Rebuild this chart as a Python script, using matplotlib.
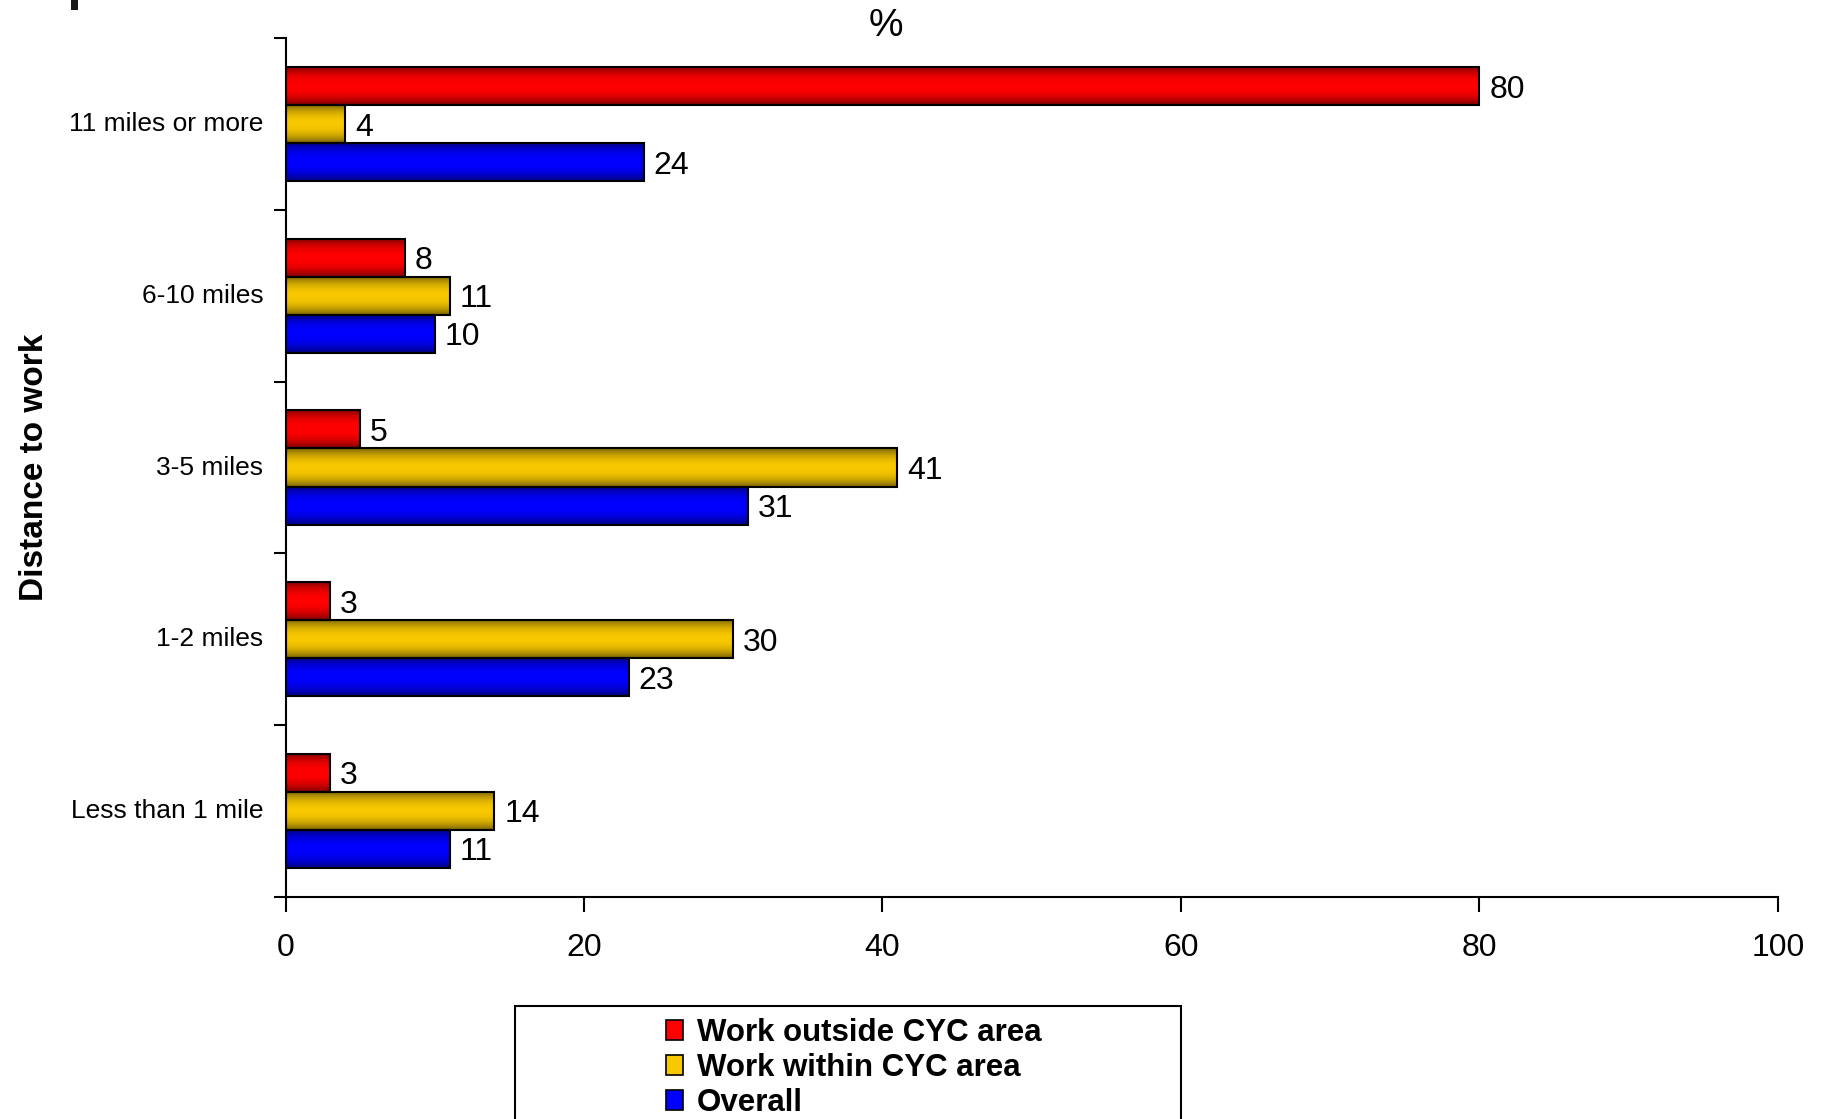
"""
Distance to work, split by where people work (bar chart, horizontal).
"""

import numpy as np
import matplotlib
matplotlib.use("Agg")
import matplotlib.pyplot as plt
import matplotlib.colors as mcolors
import matplotlib.transforms as mtransforms
from matplotlib.patches import Rectangle, Patch

plt.rcParams["font.family"] = ["Liberation Sans", "DejaVu Sans"]

categories = ["Less than 1 mile", "1-2 miles", "3-5 miles", "6-10 miles", "11 miles or more"]
outside = [3, 3, 5, 8, 80]
within = [14, 30, 41, 11, 4]
overall = [11, 23, 31, 10, 24]

series_names = ["Work outside CYC area", "Work within CYC area", "Overall"]
series_colors = ["#ff0000", "#f8c800", "#0000ff"]

xticks = [0, 20, 40, 60, 80, 100]


def shade(base, n=96):
    # dark at the top/bottom edges, full colour through the middle
    t = np.linspace(0, 1, n)
    f = 1 - 0.52 * np.abs(2 * t - 1) ** 2.2
    rgb = np.array(mcolors.to_rgb(base))
    return (f[:, None] * rgb[None, :])[:, None, :]


def gradient_bars(ax, bars, color):
    img = shade(color)
    for p in bars.patches:
        x0, y0 = p.get_x(), p.get_y()
        x1, y1 = x0 + p.get_width(), y0 + p.get_height()
        im = ax.imshow(img, extent=(x0, x1, y0, y1), origin="lower",
                       aspect="auto", interpolation="bilinear", zorder=2)
        im.set_clip_path(p)
        p.set_facecolor("none")
        p.set_zorder(3)


fig = plt.figure(figsize=(18.28, 11.19), dpi=100)
ax = fig.add_axes([0.1562, 0.1988, 0.8164, 0.7668])

y = np.arange(len(categories))
h = 0.222
groups = [(outside, h), (within, 0), (overall, -h)]

for (vals, off), name, col in zip(groups, series_names, series_colors):
    bars = ax.barh(y + off, vals, height=h, color=col, edgecolor="black",
                   linewidth=1.5, label=name)
    gradient_bars(ax, bars, col)
    for v, yy in zip(vals, y + off):
        ax.annotate(str(v), (v, yy), xytext=(7, -2.5), textcoords="offset points",
                    va="center", ha="left", fontsize=23)

ax.set_xlim(0, 100)
ax.set_ylim(-0.5, len(categories) - 0.5)

ax.set_xticks(xticks)
ax.set_xticklabels([str(t) for t in xticks], fontsize=23)
ax.tick_params(axis="x", length=11, width=1.5, pad=15, direction="out")

# category ticks sit on the group boundaries, labels in the middle
ax.set_yticks(np.arange(-0.5, len(categories), 1.0))
ax.set_yticklabels([])
ax.set_yticks(y, minor=True)
ax.set_yticklabels(categories, minor=True, fontsize=19)
ax.tick_params(axis="y", which="major", length=9, width=1.5, direction="out")
ax.tick_params(axis="y", which="minor", length=0, pad=16)
nudge = mtransforms.ScaledTranslation(0, 2.5 / 100, fig.dpi_scale_trans)
for lbl in ax.get_yticklabels(minor=True):
    lbl.set_transform(lbl.get_transform() + nudge)

for s in ["top", "right"]:
    ax.spines[s].set_visible(False)
for s in ["left", "bottom"]:
    ax.spines[s].set_linewidth(1.5)

fig.text(0.019, 0.582, "Distance to work", rotation=90, ha="center", va="center",
         fontsize=24, fontweight="bold")
fig.text(0.4847, 0.977, "%", ha="center", va="center", fontsize=28)

# stray mark in the top-left corner
fig.patches.append(Rectangle((71 / 1828, 1 - 10 / 1119), 7 / 1828, 10 / 1119,
                             transform=fig.transFigure, facecolor="#1a1a1a",
                             edgecolor="none"))

# legend box runs off the bottom of the canvas
fig.patches.append(Rectangle((515 / 1828, -0.05), (1181 - 515) / 1828, 0.05 + 1 - 1006 / 1119,
                             transform=fig.transFigure, facecolor="white",
                             edgecolor="black", linewidth=1.5))
handles = [Patch(facecolor=c, edgecolor="black", linewidth=1.2) for c in series_colors]
fig.legend(handles, series_names, loc="upper left",
           bbox_to_anchor=(666 / 1828, 1 - 1018 / 1119),
           frameon=False, prop={"size": 22.5, "weight": "bold"},
           handlelength=0.55, handleheight=0.6, handletextpad=0.45,
           labelspacing=0.16, borderpad=0, borderaxespad=0)

fig.savefig("out.png", dpi=100)
